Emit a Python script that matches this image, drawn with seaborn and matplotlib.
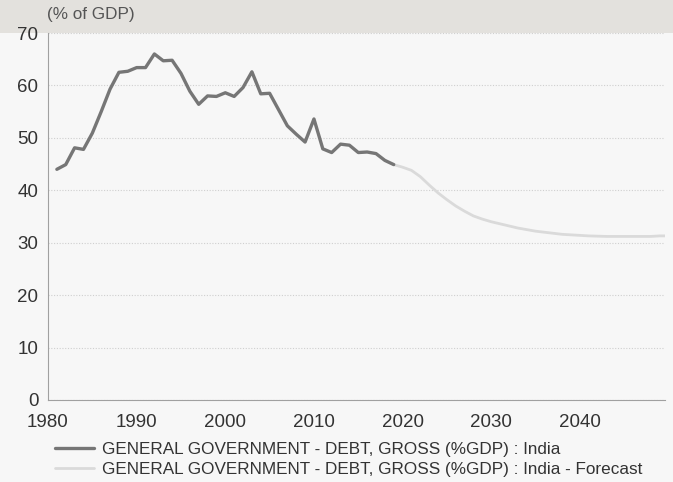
import numpy as np
import pandas as pd
import matplotlib
matplotlib.use("Agg")
import matplotlib.pyplot as plt
from matplotlib.ticker import MultipleLocator
import seaborn as sns

# ---- data ----
hist_years = list(range(1981, 2020))
hist_values = [44.0, 44.9, 48.1, 47.8, 50.9, 55.0, 59.3, 62.5, 62.7, 63.4,
               63.4, 66.0, 64.7, 64.8, 62.3, 58.9, 56.4, 58.0, 57.9, 58.6,
               57.9, 59.6, 62.6, 58.4, 58.5, 55.4, 52.3, 50.7, 49.2, 53.6,
               47.9, 47.2, 48.8, 48.6, 47.2, 47.3, 47.0, 45.7, 44.9]

fc_years = list(range(2019, 2051))
fc_values = [44.9, 44.4, 43.8, 42.6, 41.0, 39.5, 38.2, 37.0, 36.0, 35.1,
             34.5, 34.0, 33.6, 33.2, 32.8, 32.5, 32.2, 32.0, 31.8, 31.6,
             31.5, 31.4, 31.3, 31.25, 31.2, 31.2, 31.2, 31.2, 31.2, 31.2,
             31.3, 31.3]

hist_label = "GENERAL GOVERNMENT - DEBT, GROSS (%GDP) : India"
fc_label = "GENERAL GOVERNMENT - DEBT, GROSS (%GDP) : India - Forecast"
y_unit = "(% of GDP)"
x_ticks = [1980, 1990, 2000, 2010, 2020, 2030, 2040]
y_ticks = [0, 10, 20, 30, 40, 50, 60, 70]

hist_df = pd.DataFrame({"year": hist_years, "value": hist_values})
fc_df = pd.DataFrame({"year": fc_years, "value": fc_values})

# ---- style ----
sns.set_theme(style="white")
plt.rcParams["font.family"] = ["Liberation Sans", "DejaVu Sans"]

bg = "#f7f7f7"
fig = plt.figure(figsize=(6.73, 4.82), dpi=100, facecolor=bg)

# top grey band (behind everything)
band = matplotlib.patches.Rectangle((0, 1 - 33 / 482), 1, 33 / 482,
                                    transform=fig.transFigure,
                                    facecolor="#e3e1dd", edgecolor="none",
                                    zorder=-5)
fig.add_artist(band)

ax = fig.add_axes([48 / 673, 1 - 400 / 482, (665 - 48) / 673, (400 - 33) / 482])
ax.set_facecolor(bg)
ax.patch.set_alpha(0.0)

sns.lineplot(data=fc_df, x="year", y="value", ax=ax, color="#dadada",
             linewidth=2.0, label=fc_label, zorder=3)
sns.lineplot(data=hist_df, x="year", y="value", ax=ax, color="#767676",
             linewidth=2.4, label=hist_label, zorder=4)

ax.set_xlim(1980, 2049.6)
ax.set_ylim(0, 70)
ax.set_xticks(x_ticks)
ax.set_yticks(y_ticks)
ax.xaxis.set_minor_locator(MultipleLocator(1))
ax.yaxis.set_minor_locator(MultipleLocator(2))
ax.set_xlabel("")
ax.set_ylabel("")

for s in ["top", "right"]:
    ax.spines[s].set_visible(False)
for s in ["left", "bottom"]:
    ax.spines[s].set_color("#a0a0a0")
    ax.spines[s].set_linewidth(0.8)

ax.tick_params(axis="both", which="major", direction="out", length=4, width=0.7,
               color="#a0a0a0", labelsize=13.5, labelcolor="#333333")
ax.tick_params(axis="both", which="minor", direction="out", length=2, width=0.6,
               color="#b0b0b0")
ax.tick_params(axis="x", which="major", pad=6)
ax.tick_params(axis="y", which="major", pad=3)

ax.yaxis.grid(True, which="major", linestyle=(0, (1, 1.5)), color="#cfcfcf", linewidth=0.8)
ax.xaxis.grid(False)
ax.set_axisbelow(True)

# plot area background below the band
plot_bg = matplotlib.patches.Rectangle((0, 0), 1, 1 - 33 / 482,
                                       transform=fig.transFigure,
                                       facecolor=bg, edgecolor="none", zorder=-6)
fig.add_artist(plot_bg)

fig.text(47 / 673, 1 - 15 / 482, y_unit, fontsize=12.3, color="#555555",
         ha="left", va="center")

handles, labels = ax.get_legend_handles_labels()
order = [labels.index(hist_label), labels.index(fc_label)]
leg = ax.legend([handles[i] for i in order], [labels[i] for i in order],
                loc="upper left", bbox_to_anchor=(55 / 673, 1 - 442 / 482),
                bbox_transform=fig.transFigure, frameon=False, fontsize=12.3,
                handlelength=2.3, handletextpad=0.45, labelspacing=0.3,
                borderaxespad=0, borderpad=0)
for t in leg.get_texts():
    t.set_color("#333333")

fig.savefig("out.png", dpi=100, facecolor=bg)
